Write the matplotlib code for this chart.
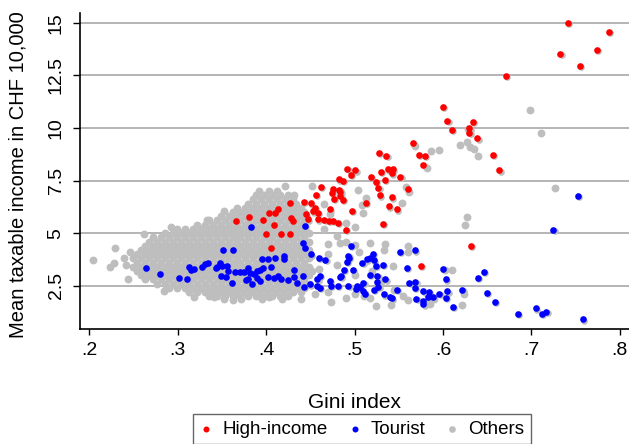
import numpy as np
import matplotlib
matplotlib.use("Agg")
import matplotlib.pyplot as plt
from matplotlib import transforms

plt.rcParams["font.family"] = ["Liberation Sans", "DejaVu Sans"]

# ---- data (Gini index, mean taxable income in CHF 10,000)
high_income = [
    (0.741, 14.98), (0.788, 14.55), (0.733, 13.50), (0.774, 13.70), (0.755, 12.95), (0.671, 12.48),
    (0.600, 10.98), (0.605, 10.33), (0.634, 10.27), (0.610, 9.89), (0.630, 9.98), (0.630, 9.76),
    (0.639, 9.50), (0.566, 9.27), (0.528, 8.81), (0.536, 8.67), (0.573, 8.70), (0.580, 8.68),
    (0.657, 8.70), (0.664, 7.98), (0.578, 8.23), (0.492, 8.05), (0.501, 7.98), (0.496, 7.77),
    (0.487, 7.49), (0.482, 7.55), (0.484, 6.97), (0.484, 6.76), (0.487, 6.57), (0.519, 7.66),
    (0.530, 7.90), (0.538, 8.03), (0.543, 8.03), (0.542, 7.84), (0.534, 7.52), (0.524, 7.42),
    (0.552, 7.66), (0.527, 7.14), (0.529, 6.79), (0.542, 6.70), (0.560, 7.08), (0.539, 6.27),
    (0.548, 6.13), (0.513, 6.43), (0.497, 6.05), (0.632, 4.38), (0.575, 3.45), (0.532, 5.42),
    (0.490, 5.14), (0.462, 7.20), (0.474, 6.92), (0.476, 7.12), (0.477, 6.63), (0.483, 7.04),
    (0.456, 6.81), (0.443, 6.47), (0.451, 6.41), (0.427, 6.45), (0.472, 6.13), (0.455, 6.18),
    (0.459, 5.98), (0.453, 6.03), (0.445, 5.89), (0.447, 5.65), (0.403, 5.98), (0.410, 5.97),
    (0.413, 6.13), (0.428, 5.73), (0.430, 5.57), (0.459, 5.65), (0.466, 5.63), (0.471, 5.59),
    (0.476, 5.59), (0.481, 5.50), (0.397, 5.62), (0.400, 4.98), (0.417, 4.98), (0.427, 4.98),
    (0.406, 4.29), (0.381, 5.77), (0.366, 5.57), (0.409, 5.37),
]

tourist = [
    (0.264, 3.32), (0.280, 3.08), (0.301, 2.86), (0.310, 2.80), (0.313, 3.38), (0.315, 3.24),
    (0.318, 3.30), (0.328, 3.38), (0.331, 3.51), (0.334, 3.59), (0.343, 3.32), (0.345, 3.40),
    (0.348, 3.56), (0.350, 3.46), (0.356, 3.43), (0.357, 3.19), (0.355, 2.93), (0.349, 2.96),
    (0.351, 4.19), (0.362, 4.18), (0.361, 2.64), (0.365, 3.15), (0.370, 3.15), (0.375, 3.15),
    (0.379, 3.36), (0.382, 3.12), (0.386, 3.04), (0.390, 3.19), (0.377, 2.77), (0.380, 2.80),
    (0.384, 2.56), (0.393, 2.72), (0.383, 5.30), (0.444, 5.33), (0.442, 4.54), (0.444, 4.27),
    (0.451, 3.99), (0.460, 3.83), (0.467, 3.72), (0.461, 2.96), (0.458, 2.80), (0.431, 3.27),
    (0.420, 3.91), (0.420, 3.78), (0.410, 3.80), (0.402, 3.75), (0.395, 3.75), (0.397, 3.36),
    (0.406, 3.40), (0.393, 3.27), (0.390, 2.88), (0.402, 2.93), (0.409, 2.88), (0.413, 2.96),
    (0.417, 2.80), (0.425, 2.77), (0.432, 2.91), (0.435, 2.64), (0.442, 2.96), (0.450, 2.56),
    (0.443, 2.43), (0.458, 2.48), (0.461, 2.39), (0.472, 2.72), (0.473, 2.48), (0.481, 2.51),
    (0.484, 2.91), (0.494, 3.81), (0.496, 4.38), (0.491, 3.62), (0.488, 3.24), (0.498, 3.27),
    (0.485, 2.98), (0.493, 3.91), (0.509, 3.59), (0.514, 3.75), (0.517, 3.83), (0.521, 4.00),
    (0.522, 3.70), (0.532, 3.48), (0.524, 3.43), (0.551, 4.10), (0.568, 4.18), (0.559, 3.36),
    (0.517, 3.00), (0.526, 2.96), (0.535, 2.80), (0.493, 2.51), (0.502, 2.36), (0.506, 2.43),
    (0.510, 2.64), (0.510, 2.23), (0.512, 2.12), (0.522, 2.32), (0.527, 2.43), (0.525, 2.69),
    (0.533, 2.09), (0.540, 1.98), (0.542, 1.90), (0.548, 2.32), (0.562, 2.64), (0.503, 2.48),
    (0.753, 6.78), (0.725, 5.16), (0.600, 3.31), (0.603, 2.80), (0.640, 2.86), (0.646, 3.17),
    (0.569, 2.67), (0.568, 2.39), (0.578, 2.23), (0.584, 2.20), (0.589, 1.98), (0.583, 1.97),
    (0.596, 2.13), (0.605, 2.23), (0.603, 1.94), (0.570, 1.86), (0.577, 1.79), (0.578, 1.61),
    (0.622, 2.31), (0.650, 2.15), (0.659, 1.74), (0.611, 1.50), (0.685, 1.18), (0.705, 1.42),
    (0.712, 1.18), (0.717, 1.25), (0.758, 0.90),
]

# dense cloud of "Others", read row by row (income level -> Gini values)
others_rows = [
    (7.0, [.403, .412]),
    (6.8, [.389, .398, .407, .416, .425]),
    (6.6, [.385, .394, .403, .412, .421, .430]),
    (6.4, [.380, .389, .398, .407, .416, .425, .434]),
    (6.2, [.367, .376, .385, .394, .403, .412, .421, .430, .439]),
    (6.0, [.362, .371, .380, .389, .398, .407, .416, .425, .434, .443]),
    (5.8, [.349, .358, .367, .376, .385, .394, .403, .412, .421, .430, .439]),
    (5.6, [.335, .344, .353, .362, .371, .380, .389, .398, .407, .416, .425, .434, .443]),
    (5.4, [.322, .331, .340, .349, .358, .367, .376, .385, .394, .403, .412, .421, .430, .439]),
    (5.2, [.299, .308, .317, .326, .335, .344, .353, .362, .371, .380, .389, .398, .407, .416,
           .425, .434, .443]),
    (5.0, [.286, .295, .304, .313, .322, .331, .340, .349, .358, .367, .376, .385, .394, .403,
           .412, .421, .430, .439, .448]),
    (4.8, [.272, .281, .290, .299, .308, .317, .326, .335, .344, .353, .362, .371, .380, .389,
           .398, .407, .416, .425, .434, .443]),
    (4.6, [.268, .277, .286, .295, .304, .313, .322, .331, .340, .349, .358, .367, .376, .385,
           .394, .403, .412, .421, .430, .439, .448]),
    (4.4, [.263, .272, .281, .290, .299, .308, .317, .326, .335, .344, .353, .362, .371, .380,
           .389, .398, .407, .416, .425, .434, .443]),
    (4.2, [.259, .268, .277, .286, .295, .304, .313, .322, .331, .340, .349, .358, .367, .376,
           .385, .394, .403, .412, .421, .430, .439, .448]),
    (4.0, [.254, .263, .272, .281, .290, .299, .308, .317, .326, .335, .344, .353, .362, .371,
           .380, .389, .398, .407, .416, .425, .434, .443]),
    (3.8, [.250, .259, .268, .277, .286, .295, .304, .313, .322, .331, .340, .349, .358, .367,
           .376, .385, .394, .403, .412, .421, .430, .439, .448]),
    (3.6, [.254, .263, .272, .281, .290, .299, .308, .317, .326, .335, .344, .353, .362, .371,
           .380, .389, .398, .407, .416, .425, .434, .443]),
    (3.4, [.250, .259, .268, .277, .286, .295, .304, .313, .322, .331, .340, .349, .358, .367,
           .376, .385, .394, .403, .412, .421, .430, .439, .448]),
    (3.2, [.254, .263, .272, .281, .290, .299, .308, .317, .326, .335, .344, .353, .362, .371,
           .380, .389, .398, .407, .416, .425, .434, .443, .452]),
    (3.0, [.259, .268, .277, .286, .295, .304, .313, .322, .331, .340, .349, .358, .367, .376,
           .385, .394, .403, .412, .421, .430, .439, .448]),
    (2.8, [.263, .272, .281, .290, .299, .308, .317, .326, .335, .344, .353, .362, .371, .380,
           .389, .398, .407, .416, .425, .434, .443]),
    (2.6, [.277, .286, .295, .304, .313, .322, .331, .340, .349, .358, .367, .376, .385, .394,
           .403, .412, .421, .430, .439, .448]),
    (2.4, [.290, .299, .308, .317, .326, .335, .344, .353, .362, .371, .380, .389, .398, .407,
           .416, .425, .434, .443]),
    (2.2, [.313, .322, .331, .340, .349, .358, .367, .376, .385, .394, .403, .412, .421, .430, .439]),
    (2.0, [.335, .344, .353, .362, .371, .380, .389, .398, .407, .416, .425]),
    (1.85, [.352, .372, .395, .418]),
]

# scattered "Others" outside the dense cloud
others_scatter = [
    (0.204, 3.74), (0.223, 3.38), (0.228, 3.56), (0.229, 4.27), (0.239, 3.80), (0.241, 3.50),
    (0.244, 2.80), (0.246, 4.10), (0.285, 2.25), (0.318, 1.95), (0.341, 1.96), (0.362, 1.80),
    (0.403, 1.96), (0.439, 1.85), (0.473, 1.72), (0.455, 2.10), (0.262, 4.95), (0.292, 5.30),
    (0.333, 5.60), (0.352, 6.05), (0.392, 7.00), (0.421, 7.25), (0.432, 6.80), (0.452, 7.25),
    (0.466, 6.40), (0.472, 5.90), (0.490, 5.50), (0.500, 5.30), (0.465, 5.18), (0.480, 4.85),
    (0.470, 4.50), (0.490, 4.60), (0.500, 4.45), (0.505, 4.10), (0.470, 4.00), (0.480, 3.50),
    (0.460, 3.30), (0.500, 3.00), (0.520, 3.20), (0.530, 2.70), (0.545, 2.30), (0.555, 2.00),
    (0.500, 2.10), (0.490, 1.90), (0.470, 2.20), (0.484, 4.54), (0.518, 4.54), (0.535, 4.49),
    (0.533, 4.19), (0.544, 3.46), (0.560, 4.38), (0.560, 4.09), (0.602, 3.27), (0.610, 3.27),
    (0.624, 2.13), (0.622, 1.58), (0.524, 1.53), (0.541, 1.58), (0.518, 1.93), (0.511, 2.01),
    (0.561, 1.83), (0.590, 1.85), (0.585, 1.61), (0.568, 9.15), (0.586, 8.92), (0.582, 8.09),
    (0.619, 9.18), (0.627, 9.34), (0.631, 9.09), (0.640, 8.68), (0.504, 7.06), (0.513, 6.65),
    (0.508, 6.35), (0.510, 5.97), (0.554, 6.45), (0.558, 7.20), (0.562, 6.95), (0.627, 5.79),
    (0.625, 5.37), (0.698, 10.86), (0.711, 9.76), (0.727, 7.16), (0.596, 8.94), (0.628, 9.93),
    (0.635, 9.00),
]

x_ticks = [0.2, 0.3, 0.4, 0.5, 0.6, 0.7, 0.8]
x_labels = [".2", ".3", ".4", ".5", ".6", ".7", ".8"]
y_ticks = [2.5, 5, 7.5, 10, 12.5, 15]
y_labels = ["2.5", "5", "7.5", "10", "12.5", "15"]

RED = "#ff0000"
BLUE = "#0000ff"
GREY = "#bebebe"
DOT = 23
GREY_DOT = 32

ox = [x for y, xs in others_rows for x in xs] + [p[0] for p in others_scatter]
oy = [y for y, xs in others_rows for x in xs] + [p[1] for p in others_scatter]
hx, hy = zip(*high_income)
tx, ty = zip(*tourist)

fig = plt.figure(figsize=(6.29, 4.44), dpi=100)
ax = fig.add_axes([80 / 629, (444 - 329.3) / 444, 549 / 629, (329.3 - 13) / 444])

others = ax.scatter(ox, oy, s=GREY_DOT, c=GREY, linewidths=0, label="Others", zorder=2)

# faint grey shadow under coloured dots, as in the original rendering
shadow = transforms.offset_copy(ax.transData, fig=fig, x=1.2, y=-1.2, units="dots")
ax.scatter(list(tx) + list(hx), list(ty) + list(hy), s=DOT, c=GREY, linewidths=0,
           transform=shadow, zorder=3)

tour = ax.scatter(tx, ty, s=DOT, c=BLUE, linewidths=0, label="Tourist", zorder=4)
high = ax.scatter(hx, hy, s=DOT, c=RED, linewidths=0, label="High-income", zorder=5)

ax.set_xlim(0.1895, 0.8105)
ax.set_ylim(0.43, 15.46)
ax.set_xticks(x_ticks)
ax.set_xticklabels(x_labels)
ax.set_yticks(y_ticks)
ax.set_yticklabels(y_labels, rotation=90, va="center")

ax.spines["top"].set_visible(False)
ax.spines["right"].set_visible(False)
ax.spines["left"].set_linewidth(1.2)
ax.spines["bottom"].set_linewidth(1.2)
ax.tick_params(axis="x", length=4, width=1, pad=5, labelsize=14)
ax.tick_params(axis="y", length=5, width=1, pad=6, labelsize=14)
ax.yaxis.grid(True, color="#a8a8a8", lw=1.2)
ax.set_axisbelow(True)

ax.set_xlabel("Gini index", fontsize=15)
ax.xaxis.set_label_coords(0.5, -0.2)
ax.set_ylabel("Mean taxable income in CHF 10,000", fontsize=14.5)
ax.yaxis.set_label_coords(-0.095, 0.49)

leg = fig.legend([high, tour, others], ["High-income", "Tourist", "Others"],
                 loc="upper center", bbox_to_anchor=(362 / 629, 1 - 414 / 444),
                 ncol=3, fontsize=13.5, frameon=True, fancybox=False, edgecolor="#404040",
                 handlelength=0.7, handletextpad=0.5, columnspacing=1.1, borderpad=0.35,
                 markerscale=0.9, borderaxespad=0, scatterpoints=1)
leg.get_frame().set_linewidth(1.0)
leg.legend_handles[2].set_sizes([DOT])

plt.savefig("out.png", dpi=100)
plt.close()
